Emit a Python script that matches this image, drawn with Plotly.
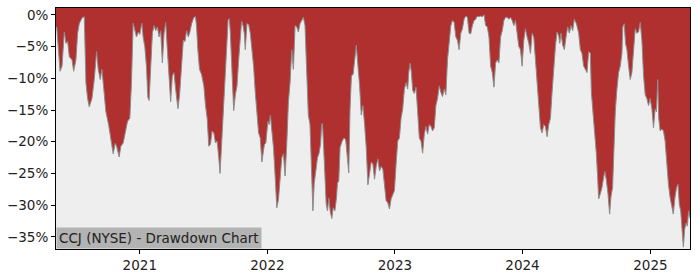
import datetime as dt
import plotly.graph_objects as go

# decimal-year positions of the traced drawdown points
years = [
    2020.345, 2020.351, 2020.377, 2020.392, 2020.410, 2020.423, 2020.436, 2020.449, 2020.470, 2020.483,
    2020.501, 2020.514, 2020.527, 2020.548, 2020.566, 2020.571, 2020.579, 2020.592, 2020.605, 2020.626,
    2020.644, 2020.662, 2020.675, 2020.691, 2020.704, 2020.714, 2020.735, 2020.756, 2020.774, 2020.792,
    2020.808, 2020.821, 2020.839, 2020.852, 2020.870, 2020.886, 2020.904, 2020.922, 2020.935, 2020.948,
    2020.964, 2020.974, 2020.990, 2021.000, 2021.016, 2021.026, 2021.039, 2021.052, 2021.063, 2021.073,
    2021.086, 2021.099, 2021.112, 2021.125, 2021.138,
    2021.151, 2021.164, 2021.177, 2021.190, 2021.203, 2021.216, 2021.229, 2021.242, 2021.255, 2021.268,
    2021.281, 2021.299, 2021.312, 2021.325, 2021.341, 2021.354, 2021.367, 2021.380, 2021.393, 2021.406,
    2021.424, 2021.437, 2021.445, 2021.455, 2021.468, 2021.484, 2021.502, 2021.515, 2021.528, 2021.541,
    2021.554, 2021.567, 2021.580, 2021.593, 2021.606, 2021.619, 2021.629, 2021.640, 2021.653, 2021.666,
    2021.679, 2021.692, 2021.702, 2021.710, 2021.723, 2021.736, 2021.749, 2021.762, 2021.775, 2021.788,
    2021.798, 2021.809, 2021.819, 2021.827, 2021.840, 2021.853, 2021.866, 2021.879, 2021.892, 2021.905,
    2021.918, 2021.931, 2021.944, 2021.957, 2021.970,
    2021.978, 2021.988, 2022.004, 2022.014, 2022.024, 2022.035, 2022.048, 2022.061, 2022.074, 2022.087,
    2022.100, 2022.113, 2022.126, 2022.139, 2022.152, 2022.165, 2022.178, 2022.191, 2022.204, 2022.217,
    2022.230, 2022.243, 2022.256, 2022.269, 2022.282, 2022.295, 2022.308, 2022.321, 2022.334, 2022.347,
    2022.357, 2022.367, 2022.380, 2022.393, 2022.404, 2022.417, 2022.425, 2022.432, 2022.440, 2022.451,
    2022.461, 2022.471, 2022.482, 2022.492, 2022.505, 2022.516, 2022.529, 2022.542, 2022.549, 2022.560,
    2022.570, 2022.586, 2022.601, 2022.614, 2022.625, 2022.638, 2022.648, 2022.659, 2022.672, 2022.684,
    2022.697, 2022.710, 2022.723, 2022.736, 2022.749, 2022.762, 2022.775, 2022.788,
    2022.801, 2022.814, 2022.827, 2022.840, 2022.853, 2022.866, 2022.879, 2022.892, 2022.905, 2022.918,
    2022.931, 2022.944, 2022.957, 2022.970, 2022.983, 2022.996, 2023.009, 2023.022, 2023.035, 2023.048,
    2023.061, 2023.074, 2023.087, 2023.100, 2023.108, 2023.119, 2023.129, 2023.139, 2023.152, 2023.165,
    2023.178, 2023.191, 2023.204, 2023.217, 2023.230, 2023.243, 2023.256, 2023.269, 2023.282, 2023.295,
    2023.308, 2023.321, 2023.334, 2023.347, 2023.360, 2023.373, 2023.386, 2023.399, 2023.412, 2023.425,
    2023.438, 2023.451, 2023.464, 2023.477, 2023.490, 2023.503, 2023.516, 2023.529, 2023.542, 2023.555,
    2023.568, 2023.581, 2023.594,
    2023.607, 2023.620, 2023.633, 2023.646, 2023.659, 2023.672, 2023.685, 2023.698, 2023.711, 2023.724,
    2023.737, 2023.750, 2023.763, 2023.776, 2023.789, 2023.802, 2023.815, 2023.828, 2023.841, 2023.854,
    2023.867, 2023.880, 2023.893, 2023.906, 2023.919, 2023.932, 2023.945, 2023.958, 2023.971, 2023.984,
    2023.997, 2024.010, 2024.023, 2024.036, 2024.049, 2024.062, 2024.075, 2024.088, 2024.101, 2024.114,
    2024.127, 2024.140, 2024.153, 2024.166, 2024.179, 2024.192, 2024.205, 2024.218, 2024.231, 2024.244,
    2024.257, 2024.270, 2024.283, 2024.291, 2024.301, 2024.314, 2024.327, 2024.340, 2024.353, 2024.366,
    2024.379, 2024.392, 2024.405, 2024.421, 2024.439, 2024.452,
    2024.465, 2024.478, 2024.491, 2024.504, 2024.517, 2024.530, 2024.538, 2024.551, 2024.564, 2024.577,
    2024.587, 2024.595, 2024.608, 2024.621, 2024.634, 2024.644, 2024.654, 2024.668, 2024.681, 2024.691,
    2024.704, 2024.712, 2024.725, 2024.738, 2024.751, 2024.764, 2024.777, 2024.784, 2024.795, 2024.805,
    2024.816, 2024.829, 2024.842, 2024.855, 2024.868, 2024.881, 2024.894, 2024.907, 2024.920, 2024.933,
    2024.946, 2024.959, 2024.972, 2024.985, 2024.998, 2025.011, 2025.024, 2025.037, 2025.047, 2025.057,
    2025.065, 2025.076, 2025.089, 2025.102, 2025.115, 2025.128, 2025.141, 2025.154, 2025.167, 2025.179,
    2025.192, 2025.205, 2025.216, 2025.226, 2025.237, 2025.247, 2025.258, 2025.268, 2025.279, 2025.289,
    2025.299, 2025.310,
]

# drawdown in percent
drawdown = [
    -1.9, -2.0, -8.9, -8.1, -2.7, -4.5, -4.2, -6.6, -7.1, -8.9,
    -7.1, -2.9, -1.4, -0.5, -0.3, -4.0, -10.7, -13.2, -14.5, -13.2,
    -10.2, -5.8, -8.6, -10.2, -8.6, -10.7, -15.3, -17.3, -19.4, -21.9,
    -20.2, -20.9, -22.4, -20.7, -20.2, -18.3, -16.8, -16.3, -10.7, -1.3,
    -2.7, -3.5, -2.7, -3.1, -1.3, -3.5, -5.0, -8.1, -13.0, -13.5,
    -8.1, -2.9, -1.7, -2.5, -1.9,
    -3.5, -2.5, -7.6, -3.0, -1.2, -5.5, -10.7, -13.7, -9.6, -9.1,
    -11.7, -14.8, -12.6, -8.1, -4.0, -4.2, -2.5, -3.5, -2.7, -1.4,
    -0.4, -0.3, -1.9, -5.5, -8.6, -9.4, -11.2, -14.3, -16.3, -20.7,
    -20.4, -18.3, -18.6, -20.2, -19.9, -22.5, -25.0, -20.9, -15.8, -10.2,
    -4.0, -0.9, -0.6, -2.9, -9.1, -15.1, -12.6, -11.2, -7.1, -2.5,
    -1.0, -1.7, -2.9, -5.5, -1.4, -1.5, -2.9, -5.5, -8.1, -12.2,
    -16.3, -18.6, -19.4, -23.2, -21.3,
    -20.4, -20.2, -16.8, -17.3, -15.8, -18.3, -20.9, -25.5, -30.4, -29.1,
    -25.5, -22.5, -21.9, -25.4, -20.4, -13.7, -10.7, -5.5, -8.6, -1.7,
    -1.9, -2.7, -1.4, -0.9, -0.4, -1.7, -8.1, -15.8, -17.3, -23.5,
    -30.9, -26.6, -24.6, -22.5, -21.9, -20.4, -17.3, -17.1, -20.4, -26.6,
    -29.8, -30.9, -28.9, -30.9, -32.1, -30.4, -30.9, -28.8, -26.6, -26.1,
    -20.9, -19.9, -19.4, -19.7, -22.5, -24.9, -14.8, -9.6, -9.4, -6.6,
    -4.8, -8.1, -11.2, -15.8, -14.3, -17.3, -20.9, -26.8,
    -24.6, -23.2, -23.5, -25.9, -23.9, -22.7, -24.6, -23.9, -24.3, -26.7,
    -29.3, -29.6, -30.6, -29.0, -28.2, -27.7, -23.5, -19.9, -19.4, -16.3,
    -14.8, -11.7, -10.7, -11.7, -9.1, -7.6, -9.1, -11.9, -12.4, -11.4,
    -15.3, -19.4, -19.9, -21.8, -18.8, -17.6, -18.8, -17.3, -17.6, -18.3,
    -17.8, -14.3, -13.2, -11.2, -12.2, -12.9, -11.7, -12.6, -7.1, -4.5,
    -1.7, -0.9, -1.2, -3.5, -4.0, -5.5, -2.9, -2.2, -0.7, -0.2,
    -0.4, -2.9, -3.0,
    -1.7, -0.9, -0.7, -0.2, -0.3, -0.2, -0.3, 0.0, -1.7, -1.9,
    -3.5, -8.1, -9.1, -11.4, -7.6, -7.1, -7.6, -3.5, -2.5, -0.9,
    -0.4, -0.4, -0.7, -0.4, -0.9, -1.7, -0.9, -2.9, -5.0, -5.5,
    -8.1, -4.0, -2.2, -3.5, -4.5, -6.1, -2.9, -3.5, -7.1, -12.2,
    -15.5, -17.8, -18.6, -17.3, -17.6, -19.2, -17.3, -16.3, -12.2, -8.1,
    -5.0, -2.7, -3.3, -4.5, -2.9, -4.8, -5.5, -3.5, -1.9, -2.9,
    -1.7, -2.5, -0.7, -1.4, -2.9, -5.5,
    -6.1, -8.1, -8.6, -9.1, -5.8, -6.1, -12.2, -15.3, -18.3, -21.9,
    -25.5, -29.0, -28.2, -27.2, -25.6, -24.7, -25.9, -28.2, -31.4, -28.7,
    -27.2, -20.9, -15.3, -11.7, -9.1, -8.1, -6.1, -1.9, -1.4, -4.5,
    -5.5, -8.1, -10.2, -9.1, -6.1, -2.2, -2.9, -2.7, -1.2, -4.0,
    -9.6, -12.6, -13.2, -14.3, -13.2, -14.8, -17.8, -14.8, -15.3, -10.2,
    -16.3, -18.3, -18.0, -18.3, -19.9, -23.5, -26.7, -28.8, -30.4, -31.4,
    -28.8, -27.2, -26.7, -29.8, -30.9, -33.3, -36.6, -33.8, -32.8, -33.3,
    -30.9, -32.0,
]

x_tick_years = [2021, 2022, 2023, 2024, 2025]
y_tick_vals = [0, -5, -10, -15, -20, -25, -30, -35]
y_tick_text = ["0%", "\u22125%", "\u221210%", "\u221215%", "\u221220%", "\u221225%", "\u221230%", "\u221235%"]
title_text = "CCJ (NYSE) - Drawdown Chart"


def year_to_date(y):
    yr = int(y)
    start = dt.datetime(yr, 1, 1)
    end = dt.datetime(yr + 1, 1, 1)
    return start + (end - start) * (y - yr)


dates = [year_to_date(y) for y in years]
top = [5.0] * len(dates)

fig = go.Figure()
fig.add_trace(go.Scatter(x=dates, y=top, mode="lines", line=dict(width=0, color="rgba(0,0,0,0)"),
                         hoverinfo="skip", showlegend=False))
fig.add_trace(go.Scatter(x=dates, y=drawdown, mode="lines", fill="tonexty", fillcolor="#b03030",
                         line=dict(color="#8c8c8c", width=1), showlegend=False))

font = dict(family="DejaVu Sans", size=13.5, color="#222222")
fig.update_layout(
    width=700, height=280,
    margin=dict(l=53, r=10, t=7, b=28),
    paper_bgcolor="white", plot_bgcolor="#eeeeee",
    font=font, showlegend=False,
)
fig.update_xaxes(
    type="date", range=[dates[0], dates[-1]],
    tickvals=[dt.datetime(y, 1, 1) for y in x_tick_years], ticktext=[str(y) for y in x_tick_years],
    ticks="outside", ticklen=4, tickcolor="black", showgrid=False, zeroline=False,
    showline=True, linecolor="black", linewidth=1, mirror=True, tickfont=font,
)
fig.update_yaxes(
    range=[-36.9, 1.07], tickvals=y_tick_vals, ticktext=y_tick_text,
    ticks="outside", ticklen=4, tickcolor="black", showgrid=False, zeroline=False,
    showline=True, linecolor="black", linewidth=1, mirror=True, tickfont=font,
)
fig.add_annotation(
    text=title_text, xref="paper", yref="paper", x=0, y=0, xanchor="left", yanchor="bottom",
    showarrow=False, bgcolor="#b3b3b3", borderpad=2, font=font,
)
fig.write_html("out.html")
